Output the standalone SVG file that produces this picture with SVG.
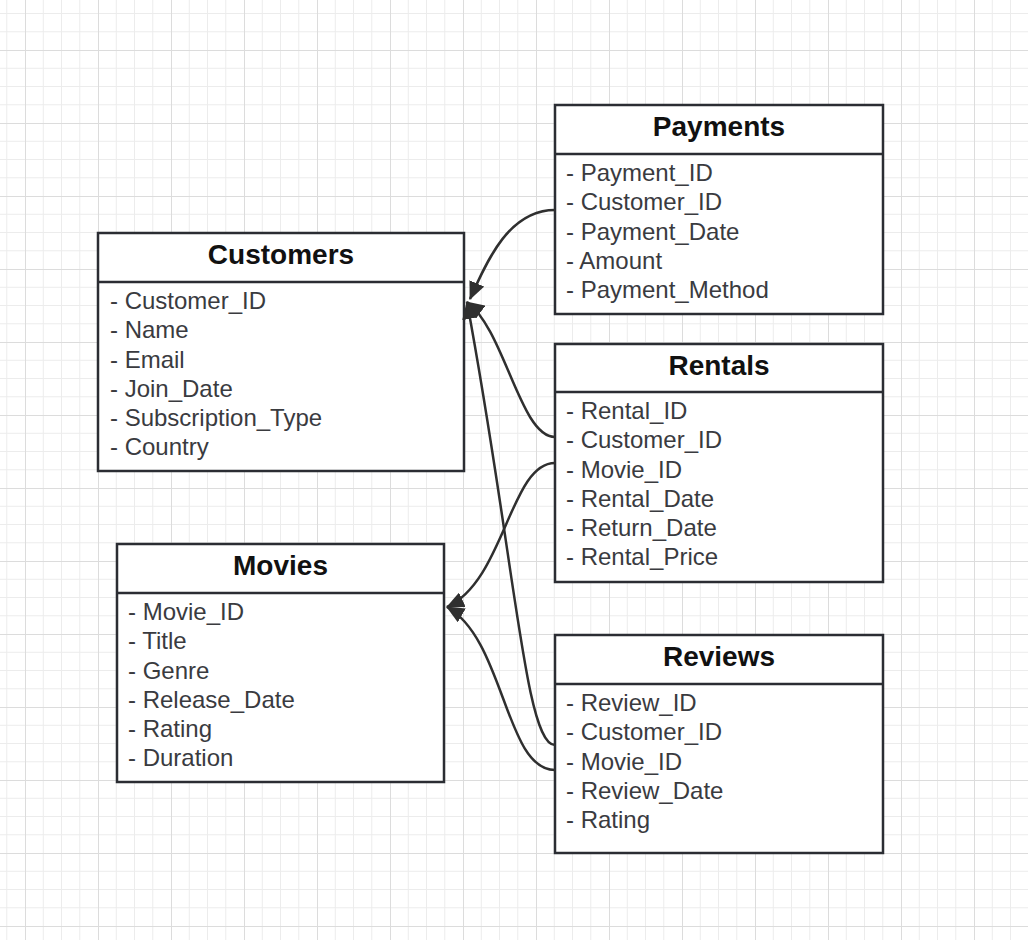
<svg xmlns="http://www.w3.org/2000/svg" width="1028" height="940" viewBox="0 0 1028 940">
<style>
.box{fill:#ffffff;stroke:#2b2d33;stroke-width:2.5}
.div{stroke:#2b2d33;stroke-width:2.5}
.title{font-family:"Liberation Sans",Arial,sans-serif;font-size:28px;font-weight:bold;fill:#111111;text-anchor:middle}
.row{font-family:"Liberation Sans",Arial,sans-serif;font-size:24px;fill:#3a3b3f}
.conn{fill:none;stroke:#2f2f2f;stroke-width:2.5}
</style>
<defs>
<pattern id="grid" x="25" y="50" width="73" height="73" patternUnits="userSpaceOnUse">
<path d="M18.25 0V73M36.5 0V73M54.75 0V73M0 18.25H73M0 36.5H73M0 54.75H73" stroke="#ececec" stroke-width="1" fill="none"/>
<path d="M0.5 0V73M0 0.5H73" stroke="#dcdcdc" stroke-width="1" fill="none"/>
</pattern>
<marker id="arr" viewBox="0 0 18 16" refX="17" refY="8" markerWidth="18" markerHeight="16" markerUnits="userSpaceOnUse" orient="auto">
<path d="M0 0L18 8L0 16Z" fill="#2f2f2f"/>
</marker>
</defs>
<rect width="1028" height="940" fill="#ffffff"/>
<rect width="1028" height="940" fill="url(#grid)"/>

<g id="payments">
<rect class="box" x="555" y="105" width="328" height="209"/>
<line class="div" x1="555" y1="154" x2="883" y2="154"/>
<text class="title" x="719" y="136">Payments</text>
<text class="row" x="566" y="181">- Payment_ID</text>
<text class="row" x="566" y="210.25">- Customer_ID</text>
<text class="row" x="566" y="239.5">- Payment_Date</text>
<text class="row" x="566" y="268.75">- Amount</text>
<text class="row" x="566" y="298">- Payment_Method</text>
</g>

<g id="customers">
<rect class="box" x="98" y="233" width="366" height="238"/>
<line class="div" x1="98" y1="282" x2="464" y2="282"/>
<text class="title" x="281" y="264">Customers</text>
<text class="row" x="110" y="309">- Customer_ID</text>
<text class="row" x="110" y="338.25">- Name</text>
<text class="row" x="110" y="367.5">- Email</text>
<text class="row" x="110" y="396.75">- Join_Date</text>
<text class="row" x="110" y="426">- Subscription_Type</text>
<text class="row" x="110" y="455.25">- Country</text>
</g>

<g id="rentals">
<rect class="box" x="555" y="344" width="328" height="238"/>
<line class="div" x1="555" y1="392" x2="883" y2="392"/>
<text class="title" x="719" y="375">Rentals</text>
<text class="row" x="566" y="419">- Rental_ID</text>
<text class="row" x="566" y="448.25">- Customer_ID</text>
<text class="row" x="566" y="477.5">- Movie_ID</text>
<text class="row" x="566" y="506.75">- Rental_Date</text>
<text class="row" x="566" y="536">- Return_Date</text>
<text class="row" x="566" y="565.25">- Rental_Price</text>
</g>

<g id="movies">
<rect class="box" x="117" y="544" width="327" height="238"/>
<line class="div" x1="117" y1="593" x2="444" y2="593"/>
<text class="title" x="280.5" y="575">Movies</text>
<text class="row" x="128" y="620">- Movie_ID</text>
<text class="row" x="128" y="649.25">- Title</text>
<text class="row" x="128" y="678.5">- Genre</text>
<text class="row" x="128" y="707.75">- Release_Date</text>
<text class="row" x="128" y="737">- Rating</text>
<text class="row" x="128" y="766.25">- Duration</text>
</g>

<g id="reviews">
<rect class="box" x="555" y="635" width="328" height="218"/>
<line class="div" x1="555" y1="684" x2="883" y2="684"/>
<text class="title" x="719" y="666">Reviews</text>
<text class="row" x="566" y="711">- Review_ID</text>
<text class="row" x="566" y="740.25">- Customer_ID</text>
<text class="row" x="566" y="769.5">- Movie_ID</text>
<text class="row" x="566" y="798.75">- Review_Date</text>
<text class="row" x="566" y="828">- Rating</text>
</g>

<g id="connectors">
<path class="conn" marker-end="url(#arr)" d="M555 210C510 210 488 258 470 299"/>
<path class="conn" marker-end="url(#arr)" d="M555 437C520 437 505 330 467 302"/>
<path class="conn" marker-end="url(#arr)" d="M555 745C525 745 515 560 467 302"/>
<path class="conn" marker-end="url(#arr)" d="M555 463C510 463 505 580 447 607"/>
<path class="conn" marker-end="url(#arr)" d="M555 770C505 770 505 640 447 607"/>
</g>
</svg>
